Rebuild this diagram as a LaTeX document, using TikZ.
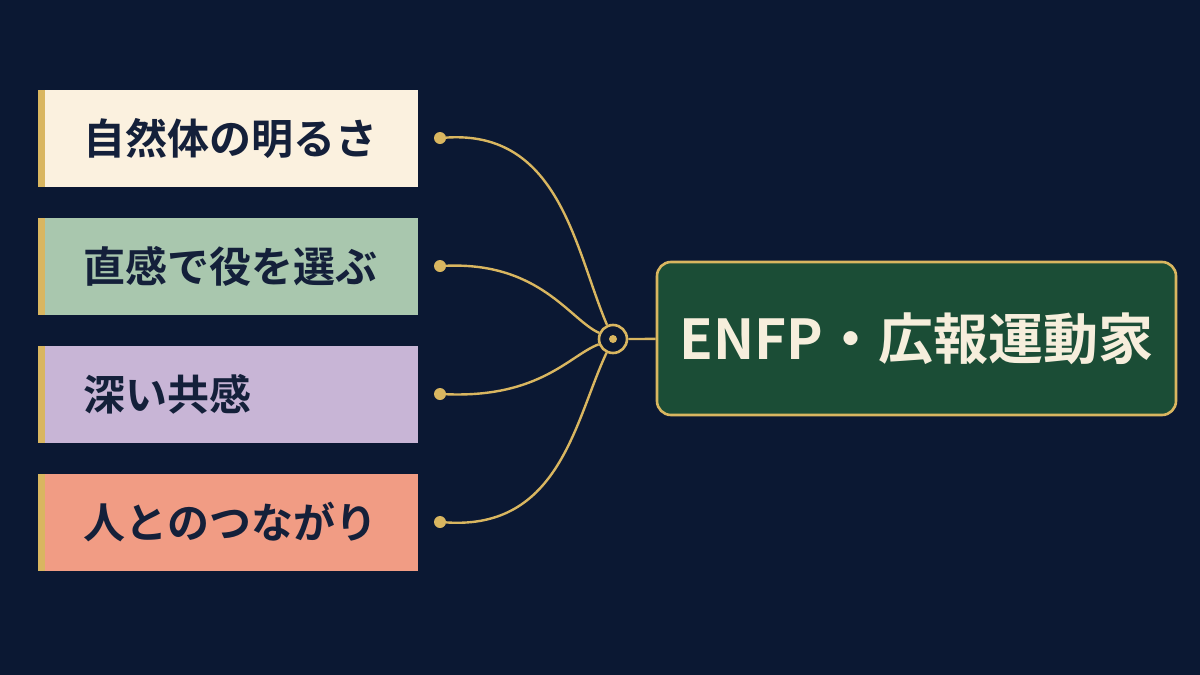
\documentclass[tikz,border=0pt]{standalone}
\usepackage{fontspec}
\newfontfamily\cjk{Noto Sans CJK JP}[BoldFont={Noto Sans CJK JP Bold}]
\definecolor{bg}{HTML}{0B1833}
\definecolor{gold}{HTML}{D9B660}
\definecolor{ink}{HTML}{14203A}
\definecolor{cA}{HTML}{FBF1DF}
\definecolor{cB}{HTML}{A9C7AE}
\definecolor{cC}{HTML}{C8B5D6}
\definecolor{cD}{HTML}{F19C84}
\definecolor{hubg}{HTML}{1B4D36}
\definecolor{cream}{HTML}{F6EEDC}
\begin{document}
\begin{tikzpicture}[x=1pt,y=-1pt,
  item/.style={draw=none,minimum width=380pt,minimum height=97pt,inner sep=0pt},
  lbl/.style={font=\cjk\bfseries\fontsize{42}{42}\selectfont,text=ink,anchor=west},
  dot/.style={circle,fill=gold,inner sep=0pt,minimum size=12pt},
  wire/.style={draw=gold,line width=2.4pt}]
\fill[bg] (0,0) rectangle (1200,675);
\useasboundingbox (0,0) rectangle (1200,675);
\foreach \n/\y/\c/\t in {a/138/cA/自然体の明るさ,b/266/cB/直感で役を選ぶ,c/394/cC/深い共感,d/522/cD/人とのつながり}{
  \node[item,fill=\c] (box\n) at (228,\y) {};
  \fill[gold] (38,\y-48.5) rectangle (45,\y+48.5);
  \node[lbl] (t\n) at (80,\y) {\t};
  \node[dot] (d\n) at (440,\y) {};
}
\node[circle,draw=gold,line width=2.6pt,fill=bg,minimum size=28pt,inner sep=0pt] (hub) at (613,339) {};
\node[dot,minimum size=8pt] (hubin) at (613,339) {};
\node[draw=gold,line width=2.6pt,fill=hubg,rounded corners=14pt,minimum width=519pt,minimum height=153pt,
  font=\cjk\bfseries\fontsize{55}{55}\selectfont,text=cream] (main) at (916.5,338.5) {ENFP・広報運動家};
\draw[wire] (da) .. controls (560,130) and (575,250) .. (hub);
\draw[wire] (db) .. controls (540,262) and (570,320) .. (hub);
\draw[wire] (dc) .. controls (540,398) and (570,355) .. (hub);
\draw[wire] (dd) .. controls (560,530) and (575,420) .. (hub);
\draw[wire] (hub) -- (main);
\end{tikzpicture}
\end{document}
